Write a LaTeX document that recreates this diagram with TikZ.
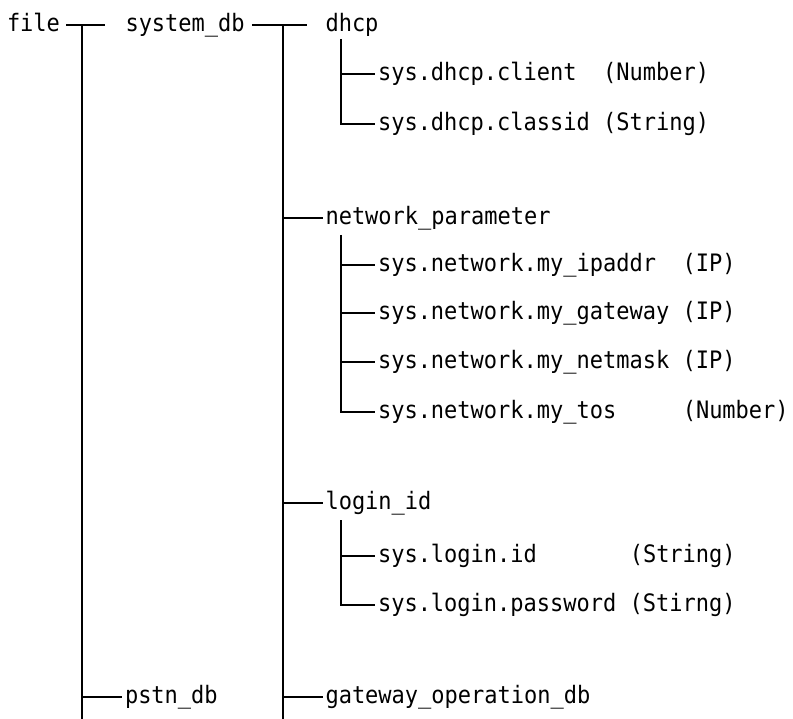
\documentclass[tikz,border=0pt]{standalone}
\usepackage{fontspec}
\newfontfamily\treefont[FakeStretch=0.917]{DejaVu Sans Mono}
\begin{document}
\begin{tikzpicture}[x=1pt,y=-1pt,
  lbl/.style={anchor=west,inner sep=0pt,outer sep=0pt,text height=18pt,text depth=5pt,
    font=\treefont\fontsize{24}{28}\selectfont},
  ln/.style={line width=1.8pt,black}]
\useasboundingbox (0,0) rectangle (793,719);
% nodes
\node[lbl] (file)  at (7,25)     {file};
\node[lbl] (sysdb) at (125.5,25) {system\_db};
\node[lbl] (dhcp)  at (325.5,25) {dhcp};
\node[lbl] (cl)    at (378,74)   {sys.dhcp.client~~(Number)};
\node[lbl] (cid)   at (378,124)  {sys.dhcp.classid~(String)};
\node[lbl] (np)    at (325.5,218) {network\_parameter};
\node[lbl] (ip)    at (378,265)  {sys.network.my\_ipaddr~~(IP)};
\node[lbl] (gw)    at (378,313)  {sys.network.my\_gateway~(IP)};
\node[lbl] (nm)    at (378,362)  {sys.network.my\_netmask~(IP)};
\node[lbl] (tos)   at (378,412)  {sys.network.my\_tos~~~~~(Number)};
\node[lbl] (lid)   at (325.5,503) {login\_id};
\node[lbl] (sli)   at (378,556)  {sys.login.id~~~~~~~(String)};
\node[lbl] (slp)   at (378,605)  {sys.login.password~(Stirng)};
\node[lbl] (pstn)  at (125,697)  {pstn\_db};
\node[lbl] (gop)   at (325.5,697) {gateway\_operation\_db};
% trunk coordinates
\coordinate (t1)  at (82,25);
\coordinate (t1e) at (82,719);
\coordinate (t2)  at (283,25);
\coordinate (t2e) at (283,719);
\coordinate (d0)  at (341,39);
\coordinate (n0)  at (341,235);
\coordinate (l0)  at (341,520);
% connectors
\draw[ln,shorten <=6pt,shorten >=21pt] (file.east) -- (sysdb.west);
\draw[ln,shorten <=7pt,shorten >=19pt] (sysdb.east) -- (dhcp.west);
\draw[ln] (t1) -- (t1e);
\draw[ln] (t2) -- (t2e);
% dhcp
\draw[ln,shorten >=3pt] (cl.west -| d0) -- (cl.west);
\draw[ln,shorten >=3pt] (d0) |- (cid.west);
% network_parameter
\draw[ln,shorten >=3pt] (np.west -| t2) -- (np.west);
\draw[ln,shorten >=3pt] (ip.west -| n0) -- (ip.west);
\draw[ln,shorten >=3pt] (gw.west -| n0) -- (gw.west);
\draw[ln,shorten >=3pt] (nm.west -| n0) -- (nm.west);
\draw[ln,shorten >=3pt] (n0) |- (tos.west);
% login_id
\draw[ln,shorten >=3pt] (lid.west -| t2) -- (lid.west);
\draw[ln,shorten >=3pt] (sli.west -| l0) -- (sli.west);
\draw[ln,shorten >=3pt] (l0) |- (slp.west);
% bottom
\draw[ln,shorten >=3pt] (pstn.west -| t1) -- (pstn.west);
\draw[ln,shorten >=3pt] (gop.west -| t2) -- (gop.west);
\end{tikzpicture}
\end{document}
